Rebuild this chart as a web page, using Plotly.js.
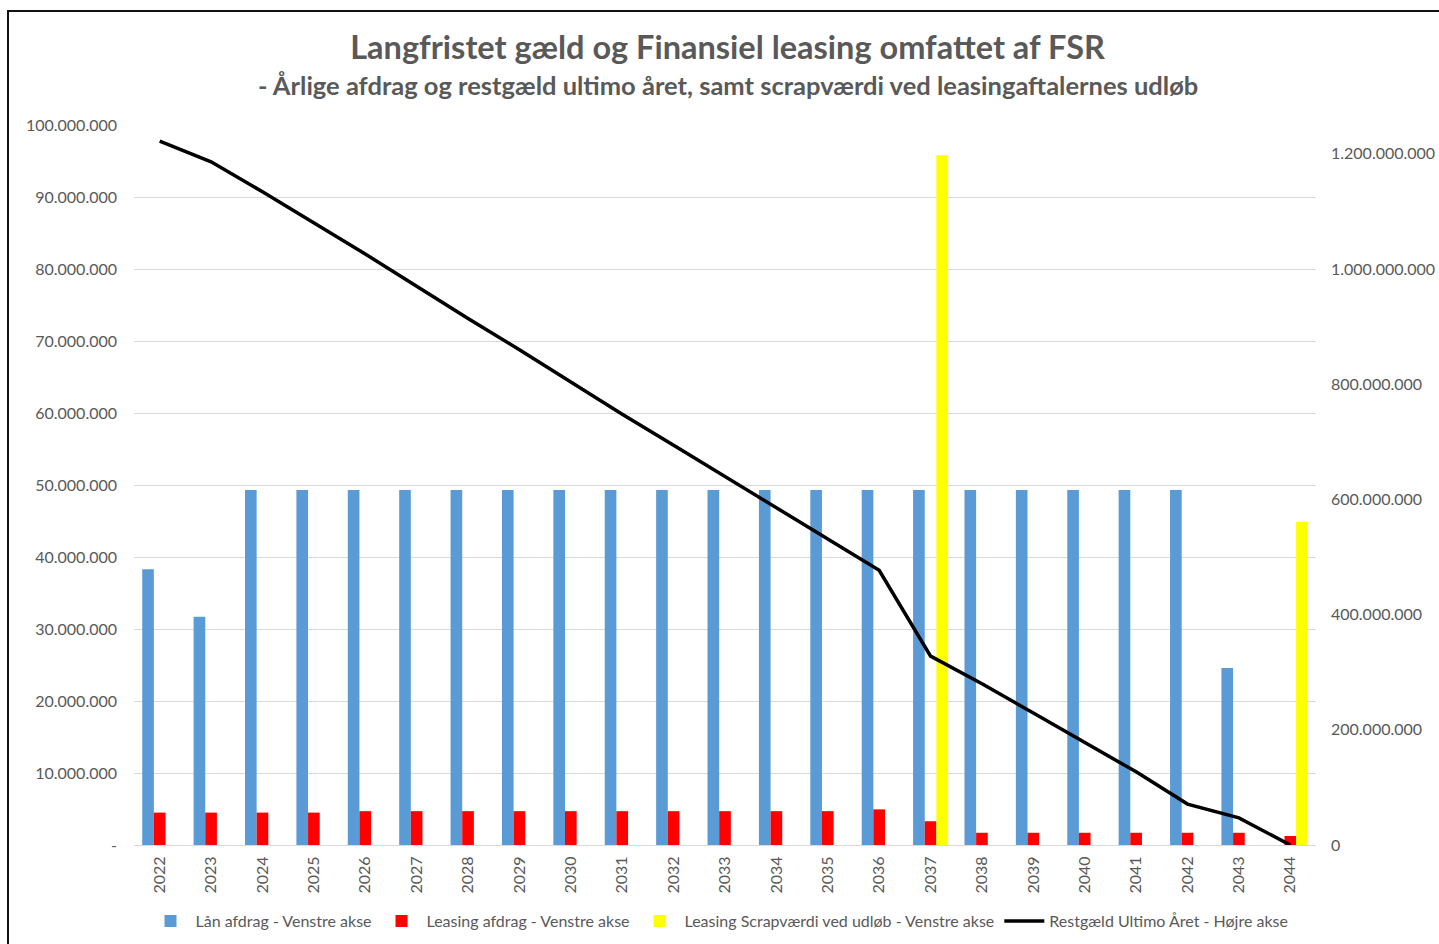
<!DOCTYPE html>
<html>
<head>
<meta charset="utf-8">
<script src="https://cdn.plot.ly/plotly-3.0.1.min.js"></script>
<style>
html,body{margin:0;padding:0;background:#fff;}
#chart{position:absolute;left:0;top:0;width:1439px;height:944px;}
#frame{position:absolute;left:7px;top:10px;width:1440px;height:940px;border-left:2px solid #111;border-top:2px solid #111;pointer-events:none;}
</style>
</head>
<body>
<div id="chart"></div>
<div id="frame"></div>
<script>
const years = ['2022','2023','2024','2025','2026','2027','2028','2029','2030','2031','2032','2033','2034','2035','2036','2037','2038','2039','2040','2041','2042','2043','2044'];
const laanAfdrag = [38.3e6,31.7e6,49.3e6,49.3e6,49.3e6,49.3e6,49.3e6,49.3e6,49.3e6,49.3e6,49.3e6,49.3e6,49.3e6,49.3e6,49.3e6,49.3e6,49.3e6,49.3e6,49.3e6,49.3e6,49.3e6,24.6e6,0];
const leasingAfdrag = [4.5e6,4.5e6,4.5e6,4.5e6,4.7e6,4.7e6,4.7e6,4.7e6,4.7e6,4.7e6,4.7e6,4.7e6,4.7e6,4.7e6,4.95e6,3.3e6,1.7e6,1.7e6,1.7e6,1.7e6,1.7e6,1.7e6,1.25e6];
const scrapvaerdi = [0,0,0,0,0,0,0,0,0,0,0,0,0,0,0,95.8e6,0,0,0,0,0,0,44.9e6];
const restgaeld = [1.222e9,1.186e9,1.134e9,1.080e9,1.026e9,0.970e9,0.914e9,0.860e9,0.804e9,0.748e9,0.694e9,0.640e9,0.586e9,0.532e9,0.477e9,0.328e9,0.280e9,0.229e9,0.178e9,0.127e9,0.071e9,0.047e9,0];
const leftTickVals = [0,10e6,20e6,30e6,40e6,50e6,60e6,70e6,80e6,90e6,100e6];
const leftTickText = ['-','10.000.000','20.000.000','30.000.000','40.000.000','50.000.000','60.000.000','70.000.000','80.000.000','90.000.000','100.000.000'];
const rightTickVals = [0,200e6,400e6,600e6,800e6,1000e6,1200e6];
const seriesNames = ['Lån afdrag - Venstre akse','Leasing afdrag - Venstre akse','Leasing Scrapværdi ved udløb - Venstre akse','Restgæld Ultimo Året - Højre akse'];

const FONT = 'Lato, "Open Sans", sans-serif';
const GRAY = '#595959';

const traces = [
  {type:'bar', name:seriesNames[0], x:years, y:laanAfdrag, marker:{color:'#5b9bd5'}, yaxis:'y'},
  {type:'bar', name:seriesNames[1], x:years, y:leasingAfdrag, marker:{color:'#ff0000'}, yaxis:'y'},
  {type:'bar', name:seriesNames[2], x:years, y:scrapvaerdi, marker:{color:'#ffff00'}, yaxis:'y'},
  {type:'scatter', mode:'lines', name:seriesNames[3], x:years, y:restgaeld, line:{color:'#000000', width:3.5}, yaxis:'y2'}
];

const layout = {
  width:1439, height:944,
  paper_bgcolor:'#ffffff', plot_bgcolor:'#ffffff',
  separators:',.',
  margin:{l:134, r:123, t:125, b:99, autoexpand:false},
  font:{family:FONT, color:GRAY, size:16},
  title:{text:'Langfristet gæld og Finansiel leasing omfattet af FSR', font:{family:FONT, size:32.5, color:GRAY, weight:700}, x:0.5056, xanchor:'center', xref:'container', y:1-48/944, yanchor:'middle', yref:'container'},
  annotations:[{text:'- Årlige afdrag og restgæld ultimo året, samt scrapværdi ved leasingaftalernes udløb', xref:'paper', yref:'paper', x:(727.5-134)/1182, y:(845-85)/720, xanchor:'center', yanchor:'middle', showarrow:false, font:{family:FONT, size:25.5, color:GRAY, weight:700}}],
  barmode:'group', bargap:0.32, bargroupgap:0,
  showlegend:true,
  legend:{orientation:'h', x:0.5, xref:'container', xanchor:'center', y:1-921/944, yref:'container', yanchor:'middle', font:{family:FONT, size:16, color:GRAY}, traceorder:'normal', itemwidth:40},
  xaxis:{type:'category', automargin:false, tickangle:-90, showline:true, linecolor:'#d9d9d9', linewidth:1, ticks:'', showgrid:false, tickfont:{family:FONT, size:16, color:GRAY}, ticklabelstandoff:4},
  yaxis:{automargin:false, range:[0,100e6], tickvals:leftTickVals, ticktext:leftTickText, showgrid:true, gridcolor:'#d9d9d9', gridwidth:1, zeroline:false, showline:false, ticks:'', tickfont:{family:FONT, size:16, color:GRAY}, ticklabelstandoff:16},
  yaxis2:{automargin:false, overlaying:'y', side:'right', range:[0,1.25e9], tickvals:rightTickVals, tickformat:',d', showgrid:false, zeroline:false, showline:false, ticks:'', tickfont:{family:FONT, size:16, color:GRAY}, ticklabelstandoff:14}
};

Plotly.newPlot('chart', traces, layout, {displayModeBar:false, staticPlot:true});
</script>
</body>
</html>
